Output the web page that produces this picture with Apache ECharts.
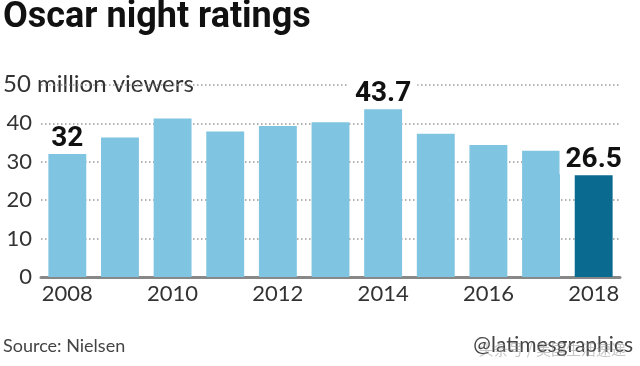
<!DOCTYPE html>
<html>
<head>
<meta charset="utf-8">
<script src="https://cdn.jsdelivr.net/npm/echarts@6/dist/echarts.min.js"></script>
<style>
html,body{margin:0;padding:0;background:#fff;}
#chart{width:640px;height:366px;}
</style>
</head>
<body>
<div id="chart"></div>
<script>
const years = ['2008','2009','2010','2011','2012','2013','2014','2015','2016','2017','2018'];
const viewers = [32.0, 36.3, 41.3, 37.9, 39.3, 40.3, 43.7, 37.3, 34.4, 32.9, 26.5];
const labeledYears = ['2008','2014','2018'];
const highlightYear = '2018';
const yTicks = [0, 10, 20, 30, 40, 50];

const FONT = 'Lato, "Open Sans", sans-serif';
const light = '#7fc4e0', dark = '#0b6a8f';

const chart = echarts.init(document.getElementById('chart'), null, {renderer: 'canvas'});
chart.setOption({
  animation: false,
  backgroundColor: '#fff',
  grid: {left: 41, right: 20, top: 85, bottom: 89, containLabel: false},
  xAxis: {
    type: 'category',
    data: years,
    axisLine: {lineStyle: {color: '#888', width: 3}},
    axisTick: {show: false},
    axisLabel: {
      interval: 1, color: '#333', fontSize: 22, fontFamily: FONT, margin: 6
    }
  },
  yAxis: {
    type: 'value',
    min: yTicks[0], max: yTicks[yTicks.length - 1], interval: 10,
    axisLine: {show: false},
    axisTick: {show: false},
    splitLine: {lineStyle: {color: '#999', type: [1.5, 2.5], width: 1.5}},
    axisLabel: {
      color: '#333', fontSize: 22, fontFamily: FONT, margin: 9,
      formatter: v => (v === 50 ? '' : String(v))
    }
  },
  series: [{
    type: 'bar',
    data: viewers.map((v, i) => ({
      value: v,
      itemStyle: {color: years[i] === highlightYear ? dark : light},
      label: {show: labeledYears.includes(years[i])}
    })),
    barCategoryGap: '28%',
    label: {
      position: 'top', distance: 1,
      color: '#111', fontSize: 28, fontWeight: 'bold', fontFamily: 'Roboto, sans-serif',
      backgroundColor: '#fff', padding: [0, 6, 0, 6],
      formatter: p => String(p.value)
    }
  }],
  graphic: [
    {type: 'text', left: 3, top: 0,
     style: {text: 'Oscar night ratings', fill: '#111', font: 'bold 36px Roboto, sans-serif'}},
    {type: 'text', left: 3, top: 72,
     style: {text: '50 million viewers', fill: '#333', font: '24px ' + FONT,
             backgroundColor: '#fff', padding: [0, 10, 0, 0]}},
    {type: 'text', left: 3, top: 337,
     style: {text: 'Source: Nielsen', fill: '#444', font: '18px ' + FONT}},
    {type: 'text', right: 7, top: 335,
     style: {text: '@latimesgraphics', fill: '#444', font: '21px ' + FONT}},
    {type: 'text', right: 14, top: 342,
     style: {text: '头条号 / 美国生活速递', fill: 'rgba(150,150,150,0.55)', font: '15px "Noto Sans CJK SC", sans-serif'}}
  ]
});
</script>
</body>
</html>
